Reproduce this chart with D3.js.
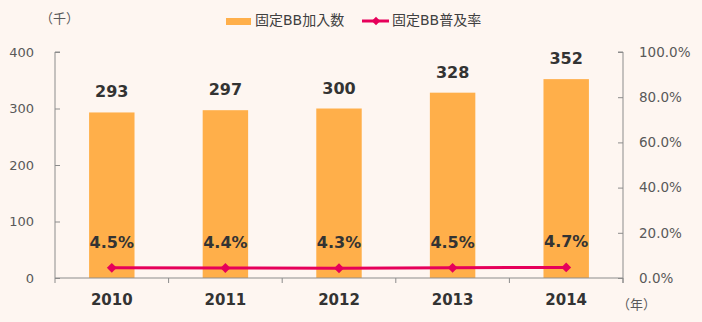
<!DOCTYPE html>
<html>
<head>
<meta charset="utf-8">
<script src="https://cdn.jsdelivr.net/npm/d3@7"></script>
<style>
  html, body { margin: 0; padding: 0; background: #FEF6F1; }
  svg { display: block; }
  text { font-family: "DejaVu Sans", "Noto Sans CJK JP", sans-serif; }
</style>
</head>
<body>
<svg id="chart" width="702" height="322"></svg>
<script>
// Fixed broadband subscribers (thousands) and penetration rate (%)
const years = ["2010", "2011", "2012", "2013", "2014"];
const subscribers = [293, 297, 300, 328, 352];
const penetration = [4.5, 4.4, 4.3, 4.5, 4.7];
const leftTicks = [0, 100, 200, 300, 400];
const rightTicks = [0, 20, 40, 60, 80, 100];
const seriesNames = ["固定BB加入数", "固定BB普及率"];

const barColor = "#FFAF4A";
const lineColor = "#E6005A";
const axisColor = "#8C8C8C";
const textColor = "#595959";
const labelColor = "#333333";

const svg = d3.select("#chart");
const m = { left: 55, right: 623, top: 52, bottom: 278 };

const x = d3.scaleBand().domain(years).range([m.left, m.right]).paddingInner(0.6).paddingOuter(0.3);
const xb = d3.scaleBand().domain(years).range([m.left, m.right]);
const yL = d3.scaleLinear().domain([0, 400]).range([m.bottom, m.top]);
const yR = d3.scaleLinear().domain([0, 100]).range([m.bottom, m.top]);

// Bars
svg.append("g").selectAll("rect").data(years).join("rect")
  .attr("x", (d) => x(d))
  .attr("width", x.bandwidth())
  .attr("y", (d, i) => yL(subscribers[i]))
  .attr("height", (d, i) => m.bottom - yL(subscribers[i]))
  .attr("fill", barColor);

// Left axis
const gL = svg.append("g").attr("transform", `translate(${m.left},0)`)
  .call(d3.axisRight(yL).tickValues(leftTicks).tickSize(5).tickFormat(""));
gL.select(".domain").attr("stroke", axisColor).attr("d", `M5,${m.top}H0V${m.bottom}`);
gL.selectAll(".tick line").attr("stroke", axisColor);
svg.append("g").selectAll("text").data(leftTicks).join("text")
  .attr("x", 34).attr("y", (d) => yL(d)).attr("dy", "0.35em")
  .attr("text-anchor", "end").attr("font-size", 13).attr("fill", textColor)
  .text((d) => d);

// Right axis
const gR = svg.append("g").attr("transform", `translate(${m.right},0)`)
  .call(d3.axisLeft(yR).tickValues(rightTicks).tickSize(5).tickFormat(""));
gR.select(".domain").attr("stroke", axisColor).attr("d", `M-5,${m.top}H0V${m.bottom + 5}`);
gR.selectAll(".tick line").attr("stroke", axisColor);
svg.append("g").selectAll("text").data(rightTicks).join("text")
  .attr("x", 639).attr("y", (d) => yR(d)).attr("dy", "0.35em")
  .attr("text-anchor", "start").attr("font-size", 13.5).attr("fill", textColor)
  .text((d) => d.toFixed(1) + "%");

// Bottom axis with ticks at category boundaries
const gB = svg.append("g").attr("transform", `translate(0,${m.bottom})`);
gB.append("line").attr("x1", m.left).attr("x2", m.right).attr("stroke", axisColor);
gB.selectAll("line.tk").data(d3.range(years.length + 1)).join("line")
  .attr("class", "tk")
  .attr("x1", (i) => m.left + i * xb.step()).attr("x2", (i) => m.left + i * xb.step())
  .attr("y1", 0).attr("y2", 5).attr("stroke", axisColor);
gB.selectAll("text").data(years).join("text")
  .attr("x", (d) => xb(d) + xb.bandwidth() / 2).attr("y", 22).attr("dy", "0.35em")
  .attr("text-anchor", "middle").attr("font-size", 15).attr("font-weight", "bold")
  .attr("fill", labelColor).text((d) => d);

// Penetration line
const cx = (d) => xb(d) + xb.bandwidth() / 2;
svg.append("path")
  .datum(years)
  .attr("d", d3.line().x(cx).y((d, i) => yR(penetration[i])))
  .attr("fill", "none").attr("stroke", lineColor).attr("stroke-width", 3);
svg.append("g").selectAll("path").data(years).join("path")
  .attr("transform", (d, i) => `translate(${cx(d)},${yR(penetration[i])}) rotate(45)`)
  .attr("d", "M-3.5,-3.5H3.5V3.5H-3.5Z").attr("fill", lineColor);

// Bar value labels
svg.append("g").selectAll("text").data(years).join("text")
  .attr("x", cx).attr("y", (d, i) => yL(subscribers[i]) - 15)
  .attr("text-anchor", "middle").attr("font-size", 16).attr("font-weight", "bold")
  .attr("fill", labelColor).text((d, i) => subscribers[i]);

// Rate labels
svg.append("g").selectAll("text").data(years).join("text")
  .attr("x", cx).attr("y", (d, i) => yR(penetration[i]) - 20)
  .attr("text-anchor", "middle").attr("font-size", 16).attr("font-weight", "bold")
  .attr("fill", labelColor).text((d, i) => penetration[i].toFixed(1) + "%");

// Unit labels
svg.append("text").attr("x", 40).attr("y", 18).attr("dy", "0.35em")
  .attr("font-size", 13).attr("fill", textColor).text("（千）");
svg.append("text").attr("x", 617).attr("y", 304).attr("dy", "0.35em")
  .attr("font-size", 13).attr("fill", textColor).text("（年）");

// Legend
const lg = svg.append("g");
lg.append("rect").attr("x", 226).attr("y", 18).attr("width", 25).attr("height", 7).attr("fill", barColor);
lg.append("text").attr("x", 255).attr("y", 20).attr("dy", "0.35em")
  .attr("font-size", 14).attr("fill", "#404040").text(seriesNames[0]);
lg.append("line").attr("x1", 362).attr("x2", 389).attr("y1", 21).attr("y2", 21)
  .attr("stroke", lineColor).attr("stroke-width", 3);
lg.append("path").attr("transform", "translate(376,21) rotate(45)")
  .attr("d", "M-3,-3H3V3H-3Z").attr("fill", lineColor);
lg.append("text").attr("x", 392).attr("y", 20).attr("dy", "0.35em")
  .attr("font-size", 14).attr("fill", "#404040").text(seriesNames[1]);
</script>
</body>
</html>
